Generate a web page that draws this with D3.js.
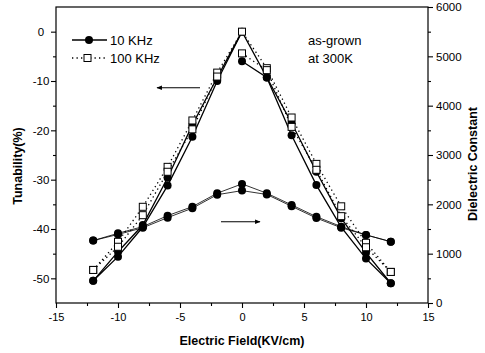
<!DOCTYPE html>
<html>
<head>
<meta charset="utf-8">
<script src="https://cdn.jsdelivr.net/npm/d3@7"></script>
<style>
  body { margin: 0; background: #fff; }
  svg { font-family: "Liberation Sans", Arial, sans-serif; }
</style>
</head>
<body>
<script>
const width = 485;
const height = 353;

// electric field (KV/cm) where readings were taken
const fieldE = [-12, -10, -8, -6, -4, -2, 0, 2, 4, 6, 8, 10, 12];

// tunability (%), two sweeps per frequency
const tun10A = [-50.5, -45.6, -39.6, -31.2, -21.3, -10.0, 0, -9.3, -21.0, -31.1, -39.6, -46.0, -51.0];
const tun10B = [-50.5, -44.6, -39.2, -29.6, -18.9, -9.3, -6.0, -9.3, -18.5, -28.4, -37.8, -44.8, -51.0];
const tun100A = [-48.3, -42.6, -35.5, -27.4, -18.0, -8.3, 0, -7.4, -17.4, -26.8, -35.4, -42.8, -48.7];
const tun100B = [-48.3, -43.6, -37.2, -28.4, -19.8, -9.1, -4.4, -7.8, -19.3, -28.0, -37.4, -43.7, -48.7];

// dielectric constant
const diel10 = [1265, 1413, 1548, 1771, 1953, 2225, 2414, 2225, 1988, 1750, 1548, 1380, 1243];
const diel100 = [1265, 1390, 1525, 1730, 1922, 2195, 2278, 2200, 1960, 1722, 1525, 1380, 1243];

const xTicks = [-15, -10, -5, 0, 5, 10, 15];
const yLeftTicks = [0, -10, -20, -30, -40, -50];
const yRightTicks = [0, 1000, 2000, 3000, 4000, 5000, 6000];

const x = d3.scaleLinear([-15, 15], [56, 428]);
const yL = d3.scaleLinear([-55, 5], [303, 7]);
const yR = d3.scaleLinear([0, 6000], [303, 7]);

const hyphen = d => String(d); // plain "-" like the original

const svg = d3.select("body").append("svg")
    .attr("width", width)
    .attr("height", height);

// frame
svg.append("rect")
    .attr("x", 56).attr("y", 7)
    .attr("width", 428 - 56).attr("height", 303 - 7)
    .attr("fill", "none").attr("stroke", "#000").attr("stroke-width", 1.2);

// axes
function styleAxis(g, fs) {
  g.select(".domain").remove();
  g.selectAll("line").attr("stroke", "#000").attr("stroke-width", 1.1);
  g.selectAll("text").attr("fill", "#000").style("font-size", fs);
}

svg.append("g").attr("transform", "translate(0,303)")
    .call(d3.axisBottom(x).tickValues(xTicks).tickSize(5).tickPadding(5).tickFormat(hyphen))
    .call(g => styleAxis(g, "11px"));
svg.append("g").attr("transform", "translate(0,303)")
    .call(d3.axisBottom(x).tickValues(d3.range(-12.5, 15, 5)).tickSize(3).tickFormat(""))
    .call(g => styleAxis(g, "11px"));

svg.append("g").attr("transform", "translate(56,0)")
    .call(d3.axisLeft(yL).tickValues(yLeftTicks).tickSize(5).tickFormat(hyphen))
    .call(g => styleAxis(g, "11.5px"))
    .call(g => g.selectAll("text").attr("text-anchor", "middle").attr("x", -15));
svg.append("g").attr("transform", "translate(56,0)")
    .call(d3.axisLeft(yL).tickValues(d3.range(-45, 0, 10)).tickSize(3).tickFormat(""))
    .call(g => styleAxis(g, "11px"));

svg.append("g").attr("transform", "translate(428,0)")
    .call(d3.axisRight(yR).tickValues(yRightTicks).tickSize(5).tickPadding(3).tickFormat(hyphen))
    .call(g => styleAxis(g, "11.5px"));
svg.append("g").attr("transform", "translate(428,0)")
    .call(d3.axisRight(yR).tickValues(d3.range(500, 6000, 1000)).tickSize(3).tickFormat(""))
    .call(g => styleAxis(g, "11px"));

// axis titles
svg.append("text")
    .attr("x", 242).attr("y", 345)
    .attr("text-anchor", "middle")
    .style("font-size", "12.5px").style("font-weight", "bold")
    .text("Electric Field(KV/cm)");
svg.append("text")
    .attr("transform", "translate(22,166) rotate(-90)")
    .attr("text-anchor", "middle")
    .style("font-size", "12.5px").style("font-weight", "bold")
    .text("Tunability(%)");
svg.append("text")
    .attr("transform", "translate(477,164) rotate(-90)")
    .attr("text-anchor", "middle")
    .style("font-size", "12.5px").style("font-weight", "bold")
    .text("Dielectric Constant");

const line = d3.line().x(d => x(d[0])).y(d => d[1]);
const pts = (vals, y) => fieldE.map((e, i) => [e, y(vals[i])]);

// second sweep: left half runs into the peak of the first sweep, right half starts at its own zero reading
function splitSweep(vals, peakVals, y) {
  const p = pts(vals, y);
  const left = p.slice(0, 6).concat([[0, y(peakVals[6])]]);
  const right = p.slice(6);
  return [left, right];
}

const solid = { stroke: "#000", width: 1.3, dash: null };
const dotted = { stroke: "#000", width: 1.3, dash: "1.3,3.2" };
const thin = { stroke: "#000", width: 0.8, dash: null };

function drawPath(p, st) {
  svg.append("path")
      .attr("d", line(p))
      .attr("fill", "none")
      .attr("stroke", st.stroke)
      .attr("stroke-width", st.width)
      .attr("stroke-dasharray", st.dash);
}

// dielectric constant (right axis) - close double lines
drawPath(pts(diel10, yR), thin);
drawPath(pts(diel100, yR), thin);

// tunability (left axis)
drawPath(pts(tun10A, yL), solid);
splitSweep(tun10B, tun10A, yL).forEach(p => drawPath(p, solid));
drawPath(pts(tun100A, yL), dotted);
splitSweep(tun100B, tun100A, yL).forEach(p => drawPath(p, dotted));

function circles(p) {
  svg.append("g").selectAll("circle").data(p).join("circle")
      .attr("cx", d => x(d[0])).attr("cy", d => d[1])
      .attr("r", 4).attr("fill", "#000");
}
function squares(p) {
  svg.append("g").selectAll("rect").data(p).join("rect")
      .attr("x", d => x(d[0]) - 3.5).attr("y", d => d[1] - 3.5)
      .attr("width", 7).attr("height", 7)
      .attr("fill", "#fff").attr("stroke", "#000").attr("stroke-width", 1);
}

circles(pts(diel10, yR));
circles(pts(diel100, yR));
circles(pts(tun10A, yL));
circles(pts(tun10B, yL));
squares(pts(tun100A, yL));
squares(pts(tun100B, yL));

// legend
const legend = svg.append("g");
legend.append("line").attr("x1", 72).attr("x2", 107).attr("y1", 40).attr("y2", 40)
    .attr("stroke", "#000").attr("stroke-width", 1.3);
legend.append("circle").attr("cx", 89).attr("cy", 40).attr("r", 4).attr("fill", "#000");
legend.append("text").attr("x", 110).attr("y", 45).style("font-size", "13px").text("10 KHz");
legend.append("line").attr("x1", 72).attr("x2", 107).attr("y1", 58).attr("y2", 58)
    .attr("stroke", "#000").attr("stroke-width", 1.3).attr("stroke-dasharray", "1.3,3.2");
legend.append("rect").attr("x", 84).attr("y", 54.5).attr("width", 7).attr("height", 7)
    .attr("fill", "#fff").attr("stroke", "#000");
legend.append("text").attr("x", 110).attr("y", 63).style("font-size", "13px").text("100 KHz");

svg.append("text").attr("x", 308).attr("y", 45).style("font-size", "13px").text("as-grown");
svg.append("text").attr("x", 308).attr("y", 63).style("font-size", "13px").text("at 300K");

// arrows pointing to the axis each curve family belongs to
svg.append("defs").append("marker")
    .attr("id", "head").attr("viewBox", "0 0 10 10")
    .attr("refX", 9).attr("refY", 5)
    .attr("markerWidth", 7).attr("markerHeight", 5)
    .attr("orient", "auto")
  .append("path").attr("d", "M0,1L10,5L0,9Z").attr("fill", "#000");

svg.append("line")
    .attr("x1", 200).attr("y1", 87.7).attr("x2", 157).attr("y2", 87.7)
    .attr("stroke", "#000").attr("stroke-width", 1.1).attr("marker-end", "url(#head)");
svg.append("line")
    .attr("x1", 221).attr("y1", 221.7).attr("x2", 260).attr("y2", 221.7)
    .attr("stroke", "#000").attr("stroke-width", 1.1).attr("marker-end", "url(#head)");
</script>
</body>
</html>
